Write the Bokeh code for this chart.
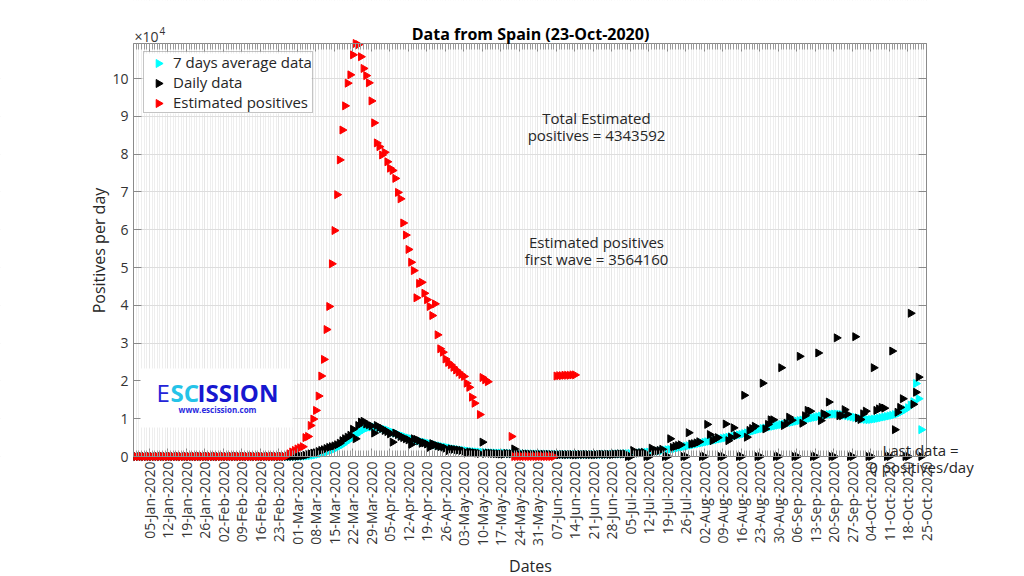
import math
import pandas as pd
from bokeh.plotting import figure
from bokeh.models import (FixedTicker, Label, LinearAxis, Range1d, BoxAnnotation,
                          DatetimeTickFormatter, Legend, LegendItem)
from bokeh.embed import file_html
from bokeh.resources import INLINE

nan = float("nan")

# ---------------- data ----------------
axis_start = "2019-12-30"
axis_end = "2020-10-25"
data_start = "2019-12-31"

tick_labels = [
    "05-Jan-2020", "12-Jan-2020", "19-Jan-2020", "26-Jan-2020",
    "02-Feb-2020", "09-Feb-2020", "16-Feb-2020", "23-Feb-2020",
    "01-Mar-2020", "08-Mar-2020", "15-Mar-2020", "22-Mar-2020", "29-Mar-2020",
    "05-Apr-2020", "12-Apr-2020", "19-Apr-2020", "26-Apr-2020",
    "03-May-2020", "10-May-2020", "17-May-2020", "24-May-2020", "31-May-2020",
    "07-Jun-2020", "14-Jun-2020", "21-Jun-2020", "28-Jun-2020",
    "05-Jul-2020", "12-Jul-2020", "19-Jul-2020", "26-Jul-2020",
    "02-Aug-2020", "09-Aug-2020", "16-Aug-2020", "23-Aug-2020", "30-Aug-2020",
    "06-Sep-2020", "13-Sep-2020", "20-Sep-2020", "27-Sep-2020",
    "04-Oct-2020", "11-Oct-2020", "18-Oct-2020", "25-Oct-2020",
]

y_tick_values = [0, 10000, 20000, 30000, 40000, 50000, 60000, 70000, 80000, 90000, 100000]
y_tick_labels = ["0", "1", "2", "3", "4", "5", "6", "7", "8", "9", "10"]

# first row Tue 31-Dec-2019..Sun 05-Jan-2020, then one row per week (Mon..Sun)
avg7 = [
    0, 0, 0, 0, 0, 0,
    0, 0, 0, 0, 0, 0, 0,
    0, 0, 0, 0, 0, 0, 0,
    0, 0, 0, 0, 0, 0, 0,
    0, 0, 0, 0, 0, 0, 0,
    0, 0, 0, 0, 0, 0, 0,
    0, 0, 0, 0, 0, 0, 0,
    0, 0, 0, 0, 0, 0, 0,
    0, 0, 5, 10, 15, 20, 30,
    50, 70, 100, 150, 220, 320, 440,
    600, 780, 980, 1200, 1450, 1700, 2000,
    2300, 2700, 3100, 3600, 4100, 4600, 5200,
    5700, 6200, 6700, 7100, 7500, 7700, 7800,
    7800, 7700, 7600, 7400, 7200, 7000, 6700,
    6400, 6200, 5900, 5600, 5400, 5100, 4900,
    4700, 4500, 4300, 4100, 3900, 3800, 3600,
    3400, 3300, 3100, 2900, 2800, 2600, 2500,
    2300, 2200, 2000, 1900, 1800, 1700, 1600,
    1500, 1400, 1300, 1250, 1200, 1150, 1100,
    1050, 1000, 980, 950, 920, 900, 880,
    860, 840, 820, 800, 780, 760, 740,
    720, 700, 690, 680, 670, 660, 650,
    640, 630, 620, 610, 600, 590, 580,
    570, 560, 550, 550, 540, 540, 530,
    530, 530, 520, 520, 520, 530, 530,
    540, 550, 560, 570, 580, 600, 620,
    640, 660, 680, 700, 720, 750, 780,
    820, 870, 920, 980, 1040, 1100, 1170,
    1240, 1320, 1400, 1480, 1570, 1660, 1760,
    1860, 2000, 2140, 2280, 2420, 2560, 2700,
    2850, 3000, 3150, 3300, 3450, 3600, 3750,
    3900, 4050, 4200, 4350, 4500, 4650, 4800,
    4950, 5100, 5250, 5400, 5550, 5700, 5850,
    6050, 6250, 6450, 6650, 6850, 7050, 7250,
    7400, 7550, 7700, 7850, 8000, 8150, 8300,
    8450, 8600, 8750, 8900, 9050, 9200, 9350,
    9500, 9650, 9800, 9950, 10100, 10250, 10400,
    10550, 10700, 10850, 11000, 11100, 11200, 11250,
    11250, 11200, 11100, 10950, 10800, 10650, 10500,
    10350, 10200, 10050, 9900, 9800, 9750, 9800,
    9900, 10000, 10150, 10300, 10450, 10600, 10750,
    10900, 11100, 11300, 11600, 12000, 12400, 12900,
    13600, 14500, 19300, 15300, 7100,
]

daily = [
    0, 0, 0, 0, 0, 0,
    0, 0, 0, 0, 0, 0, 0,
    0, 0, 0, 0, 0, 0, 0,
    0, 0, 0, 0, 0, 0, 0,
    0, 0, 0, 0, 0, 0, 0,
    0, 0, 0, 0, 0, 0, 0,
    0, 0, 0, 0, 0, 0, 0,
    0, 0, 0, 0, 0, 0, 0,
    0, 0, 10, 20, 30, 40, 60,
    120, 180, 300, 500, 700, 900, 1000,
    1300, 1600, 1800, 2100, 2400, 2600, 2800,
    3100, 3500, 4200, 4700, 5100, 5600, 7200,
    4700, 8200, 9100, 9300, 8600, 8400, 8100,
    6200, 8200, 7700, 7400, 6900, 6600, 6000,
    3800, 6200, 5800, 5300, 5000, 4700, 4400,
    3200, 4700, 4500, 4200, 3500, 3600, 3300,
    2400, 3400, 3100, 2800, 2600, 2400, 2200,
    1500, 2000, 1900, 1800, 1700, 1600, 1400,
    900, 1200, 1100, 1000, 900, 800, 3800,
    800, 900, 850, 800, 750, 700, 650,
    600, 800, 750, 700, 2000, 650, 600,
    550, 700, 650, 600, 600, 550, 500,
    500, 600, 550, 550, 500, 500, 450,
    450, 550, 500, 500, 550, 500, 450,
    450, 550, 500, 550, 500, 500, 450,
    500, 550, 600, 550, 600, 550, 500,
    600, 650, 700, 650, 700, 0, 0,
    1600, 800, 900, 1000, 1100, 0, 0,
    2200, 1300, 1500, 1600, 1900, 0, 0,
    4700, 2400, 2700, 2900, 3100, 0, 0,
    6300, 3300, 3400, 3600, 3900, 0, 0,
    8500, 5800, 4200, 4600, 5000, 0, 0,
    8600, 4200, 5100, 7600, 5500, 0, 0,
    16200, 5100, 6900, 7400, 8000, 0, 0,
    19400, 7300, 8500, 9700, 9700, 0, 0,
    23500, 8200, 8800, 10400, 9600, 0, 0,
    26500, 8800, 10800, 12200, 12000, 0, 0,
    27400, 9500, 11300, 11000, 14400, 0, 0,
    31400, 10800, 10800, 12400, 11200, 0, 0,
    31700, 10200, 9800, 11300, 12000, 0, 0,
    23500, 12200, 12600, 13000, 12800, 0, 0,
    27900, 7100, 11700, 13000, 15300, 0, 0,
    37900, 13800, 17000, 21000, 0,
]

estimated = [
    0, 0, 0, 0, 0, 0,
    0, 0, 0, 0, 0, 0, 0,
    0, 0, 0, 0, 0, 0, 0,
    0, 0, 0, 0, 0, 0, 0,
    0, 0, 0, 0, 0, 0, 0,
    0, 0, 0, 0, 0, 0, 0,
    0, 0, 0, 0, 0, 0, 0,
    0, 0, 0, 0, 0, 0, 0,
    0, 0, 200, 700, 1200, 1600, 2000,
    2300, 2600, 5000, 5300, 8200, 9900, 12200,
    16000, 21300, 25700, 33600, 39700, 51000, 59800,
    69300, 78500, 86400, 92800, 98800, 101000, 106300,
    109300, 109000, 105800, 102700, 100800, 98900, 94100,
    88300, 83000, 82000, 79800, 80500, 78000, 76300,
    75700, 73600, 69900, 68200, 61800, 58600, 54800,
    51400, 49200, 42000, 45800, 46100, 43200, 41500,
    39700, 37300, 40400, 32200, 28500, 27600, 25800,
    24900, 24300, 23600, 22900, 22300, 21700, 21200,
    19400, 18300, 15700, 14100, nan, 11100, 20900,
    20300, 19800, nan, nan, nan, nan, nan,
    nan, nan, nan, 5300, 0, 0, 0,
    0, 0, 0, 0, 0, 0, 0,
    0, 0, 0, 0, 0, 0, 21300,
    21400, 21400, 21500, 21500, 21500, 21600, 21600,
]

series_names = ["7 days average data", "Daily data", "Estimated positives"]
series_colors = ["#00ffff", "#000000", "#ff0000"]

title_text = "Data from Spain (23-Oct-2020)"
y_label_text = "Positives per day"
x_label_text = "Dates"
total_text = ["Total Estimated", "positives = 4343592"]
wave_text = ["Estimated positives", "first wave = 3564160"]
last_text = ["Last data =", "0 positives/day"]

# ---------------- geometry ----------------
FONT = "Open Sans"
X0 = pd.Timestamp(axis_start)
X1 = pd.Timestamp(axis_end)


def ms(ts):
    return pd.Timestamp(ts).value / 1e6


YMAX = max(v for v in avg7 + daily + estimated if v == v)

# the Bokeh frame covers the whole canvas; the axes box sits inside it
W, H = 1016, 576
FL, FR, FT, FB = 133, 926, 43, 456          # axes box in canvas pixels
XSPAN = ms(X1) - ms(X0)


def sx(px):
    return ms(X0) + (px - FL) / (FR - FL) * XSPAN


def sy(py):
    return (FB - py) / (FB - FT) * YMAX


p = figure(width=W, height=H, x_axis_type="datetime",
           x_range=Range1d(sx(0), sx(W)), y_range=Range1d(sy(H), sy(0)),
           output_backend="svg", toolbar_location=None, min_border=0)
p.title.visible = False
p.background_fill_color = "white"
p.border_fill_color = "white"
p.outline_line_color = None

# ---------------- axes & grid ----------------
AX = "#8a8a8a"
x_ticks = [ms(pd.to_datetime(t, format="%d-%b-%Y")) for t in tick_labels]
day_ticks = [ms(d) for d in pd.date_range(X0, X1, freq="D")]
xt = FixedTicker(ticks=x_ticks, minor_ticks=day_ticks)
yt = FixedTicker(ticks=y_tick_values)
fmt_str = "%d-%b-%Y"
fmt = DatetimeTickFormatter(microseconds=fmt_str, milliseconds=fmt_str, seconds=fmt_str,
                            minsec=fmt_str, minutes=fmt_str, hourmin=fmt_str, hours=fmt_str,
                            days=fmt_str, months=fmt_str, years=fmt_str)

xa = p.xaxis[0]
xa.ticker = xt
xa.formatter = fmt
xa.fixed_location = 0
xa.bounds = (ms(X0), ms(X1))
xa.major_label_orientation = math.pi / 2
xa.major_label_text_font = FONT
xa.major_label_text_font_size = "14px"
xa.major_label_text_color = "#333333"
xa.major_label_standoff = 5

ya = p.yaxis[0]
ya.ticker = yt
ya.fixed_location = ms(X0)
ya.bounds = (0, YMAX)
ya.major_label_overrides = {v: s for v, s in zip(y_tick_values, y_tick_labels)}
ya.major_label_text_font = FONT
ya.major_label_text_font_size = "14px"
ya.major_label_text_color = "#333333"
ya.major_label_standoff = 5

top = LinearAxis(ticker=xt, fixed_location=YMAX, bounds=(ms(X0), ms(X1)),
                 major_label_text_color=None)
right = LinearAxis(ticker=yt, fixed_location=ms(X1), bounds=(0, YMAX),
                   major_label_text_color=None)
p.add_layout(top, "above")
p.add_layout(right, "right")

for ax in [xa, ya, top, right]:
    ax.axis_line_color = AX
    ax.major_tick_line_color = AX
    ax.minor_tick_line_color = "#9a9a9a"
    ax.major_tick_in = 8
    ax.major_tick_out = 0
    ax.minor_tick_in = 6
    ax.minor_tick_out = 0
for ax in [ya, right]:
    ax.minor_tick_line_color = None

p.xgrid.ticker = xt
p.xgrid.grid_line_color = "#e6e6e6"
p.xgrid.minor_grid_line_color = "#eeeeee"
p.ygrid.ticker = yt
p.ygrid.grid_line_color = "#dddddd"

# white masks keep the grid inside the axes box
for kw in [dict(right=ms(X0)), dict(left=ms(X1)), dict(bottom=YMAX), dict(top=0)]:
    p.add_layout(BoxAnnotation(level="underlay", fill_color="white", fill_alpha=1.0,
                               line_alpha=0, **kw))

# ---------------- legend (box geometry) ----------------
LEG_L, LEG_T, LEG_R = 143, 53, 311
ROW_H = 20                         # row height Bokeh gives a 15px Open Sans label
leg = Legend(padding=0, spacing=0, margin=0, glyph_width=29, glyph_height=18,
             label_height=18, label_standoff=0, label_text_font=FONT,
             label_text_font_size="15px", label_text_color="#262626",
             border_line_color=AX, background_fill_alpha=0.0)
leg_h = 3 * ROW_H
leg.location = (LEG_L, H - (LEG_T + leg_h))
# white legend background below the marks
p.add_layout(BoxAnnotation(level="underlay", left=sx(LEG_L), right=sx(LEG_R),
                           top=sy(LEG_T), bottom=sy(LEG_T + leg_h),
                           fill_color="white", fill_alpha=1.0, line_alpha=0))

# ---------------- data marks ----------------
for vals, name, col in zip([avg7, daily, estimated], series_names, series_colors):
    dates = pd.date_range(data_start, periods=len(vals), freq="D")
    p.scatter(x=dates, y=vals, marker="triangle", size=8, angle=-math.pi / 2,
              fill_color=col, line_color=col)

# legend entries: labels from the legend, keys drawn as right-pointing triangles
items = []
for i, (name, col) in enumerate(zip(series_names, series_colors)):
    p.scatter(x=[sx(LEG_L + 15)], y=[sy(LEG_T + ROW_H / 2 + i * ROW_H)],
              marker="triangle", size=8, angle=-math.pi / 2,
              fill_color=col, line_color=col)
    dummy = p.scatter(x=[], y=[], marker="triangle", fill_alpha=0, line_alpha=0)
    items.append(LegendItem(label=name, renderers=[dummy]))
leg.items = items
p.add_layout(leg)


def add_text(text, px, py, size, align="center", bold=False, color="#262626",
             angle=0.0, font=FONT):
    p.add_layout(Label(x=sx(px), y=sy(py), text=text, text_font=font,
                       text_font_size=size, text_align=align, text_baseline="middle",
                       text_font_style="bold" if bold else "normal",
                       text_color=color, angle=angle))


# ---------------- texts ----------------
add_text(title_text, 530, 33, "16px", bold=True, color="#000000")
add_text("\u00d710", 134, 36, "14px", align="left", color="#333333")
add_text("4", 159, 30, "10px", align="left", color="#333333")
add_text(y_label_text, 98, 250, "16px", angle=math.pi / 2)
add_text(x_label_text, 530, 565, "16px")
add_text(total_text[0], 596, 117, "15px")
add_text(total_text[1], 596, 134, "15px")
add_text(wave_text[0], 596, 241, "15px")
add_text(wave_text[1], 596, 258, "15px")
add_text(last_text[0], 920, 449, "15px")
add_text(last_text[1], 921, 466, "15px")

# logo
p.add_layout(BoxAnnotation(left=sx(140), right=sx(292), top=sy(368), bottom=sy(427),
                           fill_color="white", fill_alpha=1.0, line_alpha=0))
add_text("E", 156, 392, "24px", align="left", color="#2424d8")
add_text("SC", 170, 392, "24px", align="left", bold=True, color="#25c3e8")
add_text("ISSION", 197, 392, "24px", align="left", bold=True, color="#1717cf")
add_text("www.escission.com", 217, 409, "8px", bold=True, color="#2a2ae0")

open("out.html", "w").write(file_html(p, INLINE))
